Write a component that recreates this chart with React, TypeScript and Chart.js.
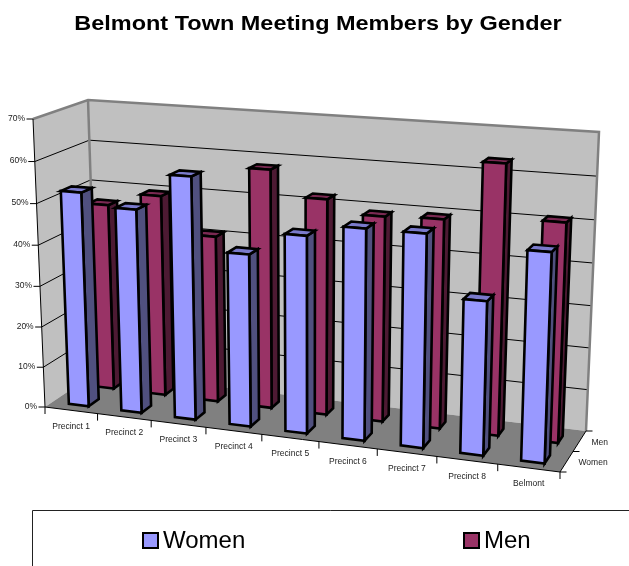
import React, { useEffect, useRef } from "react";
import { Chart, registerables } from "chart.js";

Chart.register(...registerables);

const categories = ["Precinct 1", "Precinct 2", "Precinct 3", "Precinct 4", "Precinct 5", "Precinct 6", "Precinct 7", "Precinct 8", "Belmont"];
const women = [52.5, 49.5, 58.3, 41.2, 46.7, 49.5, 49.5, 35.5, 47.7];
const men = [46.5, 49.8, 41, 58.2, 52.2, 49.2, 49.7, 63.5, 51.2];
const seriesNames = ["Women", "Men"];
const yTicksMax = 70;
const titleText = "Belmont Town Meeting Members by Gender";

// Projection box of the 3D plot frame: (front/back, left/right, bottom/top)
const FRAME = {
  flb: [45, 407], frb: [560, 472], blb: [97, 372], brb: [586, 431],
  flt: [33, 119], frt: [571, 154], blt: [88, 100], brt: [599, 132],
};
const K = 1.1;
const KV = 1.04;
const TITLE_STRETCH = 1.118;
const TITLE_CENTER = 318;
const DEPTH = [
  { name: 0, front: 0.15, back: 0.35, face: "#9999FF", side: "#50507F", top: "#7A7ACC" },
  { name: 1, front: 0.65, back: 0.82, face: "#993366", side: "#4D1A33", top: "#7A2952" },
];

const lerp = (a: number[], b: number[], t: number) => [a[0] + (b[0] - a[0]) * t, a[1] + (b[1] - a[1]) * t];
const warp = (u: number, k: number) => u / (u + k * (1 - u));
function project(u: number, v: number, d: number) {
  const w = warp(u, K);
  const bottom = lerp(lerp(FRAME.flb, FRAME.frb, w), lerp(FRAME.blb, FRAME.brb, w), d);
  const top = lerp(lerp(FRAME.flt, FRAME.frt, w), lerp(FRAME.blt, FRAME.brt, w), d);
  return lerp(bottom, top, warp(v, KV));
}

function poly(ctx: CanvasRenderingContext2D, pts: number[][], fill: string | null, stroke: string | null, lw: number) {
  ctx.beginPath();
  pts.forEach((p, i) => (i ? ctx.lineTo(p[0], p[1]) : ctx.moveTo(p[0], p[1])));
  if (fill) { ctx.closePath(); ctx.fillStyle = fill; ctx.fill(); }
  if (stroke) { ctx.strokeStyle = stroke; ctx.lineWidth = lw; ctx.stroke(); }
}

const scene3d = {
  id: "scene3d",
  // the title is drawn between these two hooks, stretched horizontally about its centre
  beforeDraw(chart: any) {
    chart.ctx.save();
    chart.ctx.setTransform(TITLE_STRETCH, 0, 0, 1, TITLE_CENTER * (1 - TITLE_STRETCH), 0);
  },
  beforeDatasetDraw() { return false; },
  beforeDatasetsDraw(chart: any) {
    const ctx: CanvasRenderingContext2D = chart.ctx;
    ctx.restore();
    const xs = chart.scales.x, ys = chart.scales.y;
    const U = (px: number) => (px - xs.left) / xs.width;
    const V = (px: number) => (ys.bottom - px) / ys.height;
    ctx.save();
    ctx.lineJoin = "miter";

    // walls and floor
    poly(ctx, [project(0, 0, 0), project(0, 1, 0), project(0, 1, 1), project(0, 0, 1)], "#C0C0C0", null, 0);
    poly(ctx, [project(0, 0, 1), project(0, 1, 1), project(1, 1, 1), project(1, 0, 1)], "#C0C0C0", null, 0);
    poly(ctx, [project(0, 0, 0), project(1, 0, 0), project(1, 0, 1), project(0, 0, 1)], "#808080", null, 0);

    // gridlines
    ys.ticks.forEach((t: any) => {
      const v = V(ys.getPixelForValue(t.value));
      if (t.value > 0 && t.value < yTicksMax) {
        poly(ctx, [project(0, v, 0), project(0, v, 1), project(1, v, 1)], null, "#000", 1);
      }
    });
    // wall borders
    poly(ctx, [project(0, 1, 0), project(0, 1, 1), project(1, 1, 1), project(1, 0, 1)], null, "#808080", 2.5);
    poly(ctx, [project(0, 0, 1), project(0, 1, 1)], null, "#808080", 2.5);

    // bars, back row first
    [1, 0].forEach((ds) => {
      const meta = chart.getDatasetMeta(ds);
      const c = DEPTH[ds];
      meta.data.forEach((bar: any) => {
        const u0 = U(bar.x - bar.width / 2), u1 = U(bar.x + bar.width / 2);
        const v = V(bar.y), b = V(bar.base);
        const f0 = project(u0, b, c.front), f1 = project(u1, b, c.front);
        const t0 = project(u0, v, c.front), t1 = project(u1, v, c.front);
        const bk1 = project(u1, b, c.back), tb1 = project(u1, v, c.back), tb0 = project(u0, v, c.back);
        poly(ctx, [f1, t1, tb1, bk1], c.side, "#000", 2.6);
        poly(ctx, [t0, t1, tb1, tb0], c.top, "#000", 2.6);
        poly(ctx, [f0, t0, t1, f1], c.face, "#000", 2.6);
      });
    });

    // axis lines
    poly(ctx, [project(0, 1, 0), project(0, 0, 0), project(1, 0, 0), project(1, 0, 1)], null, "#000", 1);

    ctx.fillStyle = "#222";
    ctx.font = "8.5px 'Liberation Sans'";
    ctx.textBaseline = "middle";
    // value ticks
    ys.ticks.forEach((t: any) => {
      const p = project(0, V(ys.getPixelForValue(t.value)), 0);
      poly(ctx, [[p[0] - 6.5, p[1]], p], null, "#000", 1);
      ctx.textAlign = "right";
      ctx.fillText(t.label, p[0] - 8, p[1] - 0.5);
    });
    // category ticks and labels
    const n = categories.length;
    for (let i = 0; i <= n; i++) {
      const p = project(i / n, 0, 0);
      poly(ctx, [p, [p[0], p[1] + 7]], null, "#000", 1);
    }
    xs.ticks.forEach((t: any, i: number) => {
      const p = project(U(xs.getPixelForTick(i)), 0, 0);
      ctx.textAlign = "center";
      ctx.fillText(t.label, p[0], p[1] + 16);
    });
    // depth ticks and labels
    [0, 0.5, 1].forEach((d) => {
      const p = project(1, 0, d);
      poly(ctx, [p, [p[0] + 6.5, p[1]]], null, "#000", 1);
    });
    chart.data.datasets.forEach((dset: any, i: number) => {
      const p = project(1, 0, i === 0 ? 0.25 : 0.75);
      ctx.textAlign = "left";
      ctx.fillStyle = "#222";
      ctx.fillText(dset.label, p[0] + 12, p[1] + 1);
    });

    // legend
    ctx.strokeStyle = "#222";
    ctx.lineWidth = 1;
    ctx.beginPath();
    ctx.moveTo(32.5, chart.height);
    ctx.lineTo(32.5, 510.5);
    ctx.lineTo(chart.width, 510.5);
    ctx.stroke();
    const legendX = [143, 464];
    chart.data.datasets.forEach((dset: any, i: number) => {
      ctx.fillStyle = dset.backgroundColor;
      ctx.strokeStyle = "#000";
      ctx.lineWidth = 2;
      ctx.fillRect(legendX[i], 533, 15, 15);
      ctx.strokeRect(legendX[i], 533, 15, 15);
      ctx.fillStyle = "#000";
      ctx.font = "24px 'Liberation Sans'";
      ctx.textAlign = "left";
      ctx.textBaseline = "alphabetic";
      ctx.fillText(dset.label, legendX[i] + 20, 548);
    });
    ctx.restore();
  },
};

export default function App() {
  const ref = useRef<HTMLCanvasElement>(null);
  useEffect(() => {
    document.body.style.margin = "0";
    const chart = new Chart(ref.current!, {
      type: "bar",
      data: {
        labels: categories,
        datasets: [
          { label: seriesNames[0], data: women, backgroundColor: "#9999FF", barPercentage: 0.38, categoryPercentage: 1 },
          { label: seriesNames[1], data: men, backgroundColor: "#993366", barPercentage: 0.38, categoryPercentage: 1 },
        ],
      },
      options: {
        responsive: false,
        animation: false,
        layout: { padding: { left: 7 } },
        plugins: {
          legend: { display: false },
          tooltip: { enabled: false },
          title: {
            display: true,
            text: titleText,
            color: "#000",
            font: { family: "'Liberation Sans'", size: 21, weight: "bold" },
            padding: { top: 12, bottom: 60 },
          },
        },
        scales: {
          x: { stacked: true, grid: { display: false }, border: { display: false }, ticks: { display: false, autoSkip: false } },
          y: {
            stacked: false, min: 0, max: yTicksMax,
            grid: { display: false }, border: { display: false },
            ticks: { display: false, stepSize: 10, callback: (v: any) => `${v}%` },
          },
        },
      },
      plugins: [scene3d],
    } as any);
    return () => chart.destroy();
  }, []);
  return <canvas ref={ref} width={629} height={566} style={{ display: "block" }} />;
}
